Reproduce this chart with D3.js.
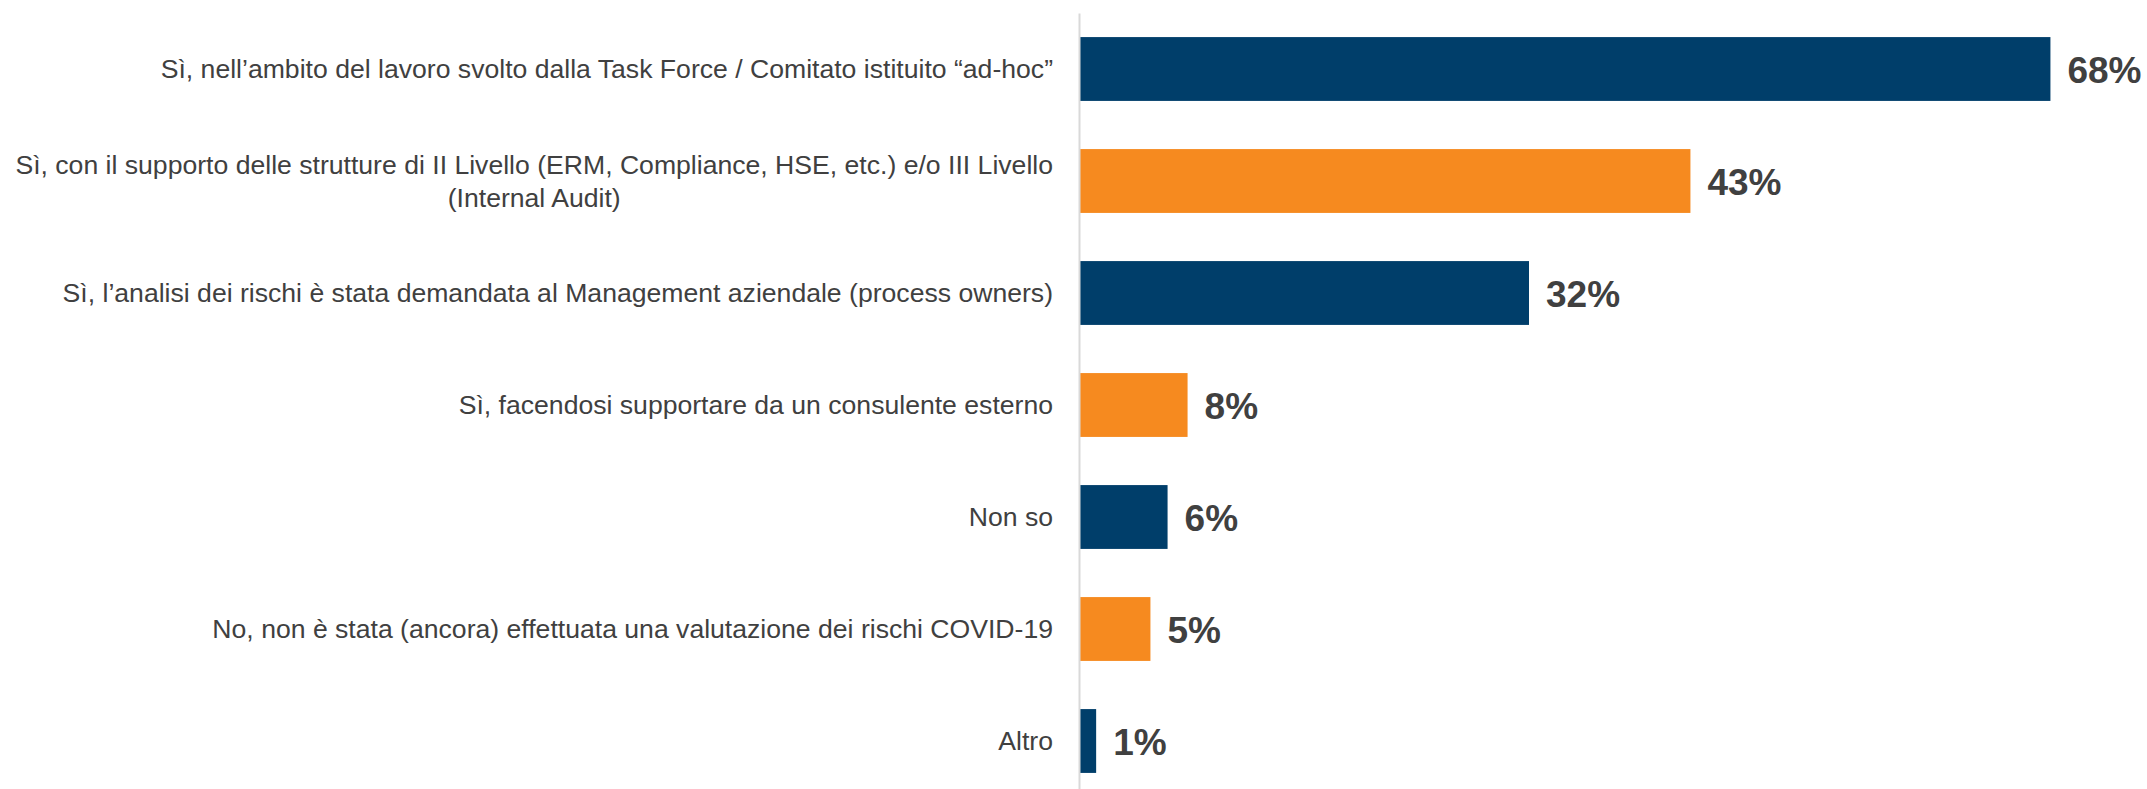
<!DOCTYPE html>
<html>
<head>
<meta charset="utf-8">
<script src="https://cdn.jsdelivr.net/npm/d3@7"></script>
<style>
  html, body { margin: 0; padding: 0; background: #ffffff; }
  svg { display: block; }
</style>
</head>
<body>
<svg id="chart" width="2147" height="789"></svg>
<script>
const categories = [
  "Sì, nell’ambito del lavoro svolto dalla Task Force / Comitato istituito “ad-hoc”",
  "Sì, con il supporto delle strutture di II Livello (ERM, Compliance, HSE, etc.) e/o III Livello\n(Internal Audit)",
  "Sì, l’analisi dei rischi è stata demandata al Management aziendale (process owners)",
  "Sì, facendosi supportare da un consulente esterno",
  "Non so",
  "No, non è stata (ancora) effettuata una valutazione dei rischi COVID-19",
  "Altro"
];
const values = [68.0, 42.8, 31.5, 7.6, 6.2, 5.0, 1.2];
const colorKeys = ["navy", "orange", "navy", "orange", "navy", "orange", "navy"];
const palette = { navy: "#003e6a", orange: "#f68a1f" };

const svg = d3.select("#chart");
const axisX = 1079;

const x = d3.scaleLinear().domain([0, 70]).range([0, 1000]);
const y = d3.scaleBand()
  .domain(categories)
  .range([13, 797])
  .paddingInner(0.43)
  .paddingOuter(0.215);

const g = svg.append("g").attr("transform", `translate(${axisX},0)`);

// bars
g.selectAll("rect.bar")
  .data(categories)
  .join("rect")
  .attr("class", "bar")
  .attr("x", 0)
  .attr("y", d => y(d))
  .attr("width", (d, i) => x(values[i]))
  .attr("height", y.bandwidth())
  .attr("fill", (d, i) => palette[colorKeys[i]]);

// value labels
const fmt = v => Math.round(v) + "%";
g.selectAll("text.val")
  .data(categories)
  .join("text")
  .attr("class", "val")
  .attr("x", (d, i) => x(values[i]) + 17)
  .attr("y", d => y(d) + y.bandwidth() / 2)
  .attr("dy", "0.38em")
  .attr("font-family", "'Liberation Sans', Arial, sans-serif")
  .attr("font-weight", "bold")
  .attr("font-size", 37)
  .attr("fill", "#404040")
  .text((d, i) => fmt(values[i]));

// axis
const pad = 26;
const yAxis = d3.axisLeft(y).tickSize(0).tickSizeOuter(0).tickPadding(pad);
const ax = g.append("g").call(yAxis);
ax.select(".domain").attr("stroke", "#d9d9d9").attr("stroke-width", 2);
ax.selectAll(".tick text")
  .attr("font-family", "'Liberation Sans', Arial, sans-serif")
  .attr("font-size", 26.6)
  .attr("fill", "#404040")
  .each(function(d) {
    const lines = d.split("\n");
    if (lines.length === 1) return;
    const t = d3.select(this);
    t.text(null);
    const lh = 33;
    const spans = lines.map((ln, k) => t.append("tspan").text(ln));
    const widths = spans.map(s => s.node().getComputedTextLength());
    const w = d3.max(widths);
    const cx = -pad - w / 2;
    t.attr("text-anchor", "middle").attr("dy", null);
    spans.forEach((s, k) => {
      s.attr("x", cx)
       .attr("y", (k - (lines.length - 1) / 2) * lh)
       .attr("dy", "0.36em");
    });
  });
</script>
</body>
</html>
